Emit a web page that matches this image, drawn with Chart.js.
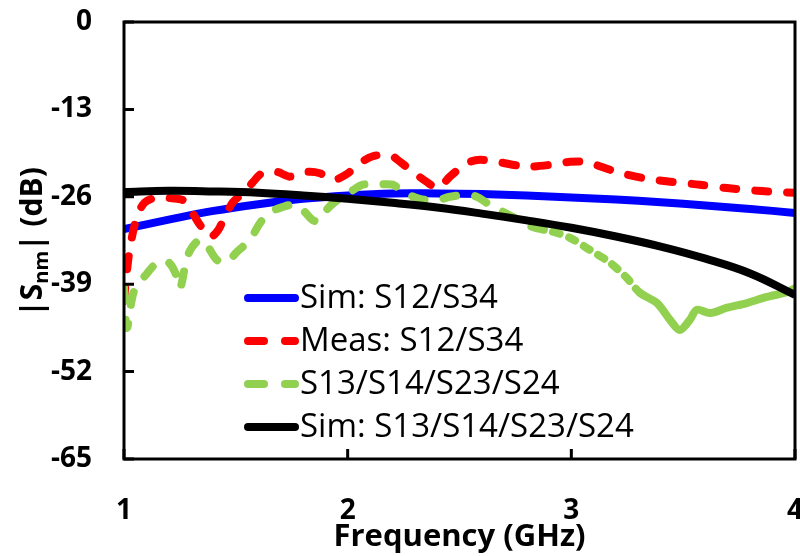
<!DOCTYPE html>
<html>
<head>
<meta charset="utf-8">
<script src="https://cdn.jsdelivr.net/npm/chart.js@4.4.0/dist/chart.umd.min.js"></script>
<style>
  html, body { margin: 0; padding: 0; background: #fff; }
</style>
</head>
<body>
<canvas id="chart" width="800" height="556"></canvas>
<script>
// simulated curves share one frequency grid (GHz)
const simFreq = [1.0, 1.2, 1.4, 1.6, 1.8, 2.0, 2.2, 2.4, 2.6, 2.8, 3.0, 3.2, 3.4, 3.6, 3.8, 4.0];
const simS12 = [-30.8, -29.4, -28.1, -27.1, -26.3, -25.8, -25.5, -25.5, -25.6, -25.8, -26.1, -26.4, -26.8, -27.3, -27.8, -28.4];
const simS13 = [-25.3, -25.1, -25.2, -25.4, -25.8, -26.3, -26.9, -27.6, -28.5, -29.5, -30.6, -31.9, -33.4, -35.2, -37.4, -40.6];

// measured S12/S34
const measFreq = [1.0, 1.01, 1.027, 1.058, 1.094, 1.161, 1.206, 1.264, 1.304, 1.34, 1.384, 1.42, 1.443, 1.487,
  1.532, 1.577, 1.617, 1.684, 1.742, 1.818, 1.876, 1.934, 1.997, 2.042, 2.109, 2.189, 2.234, 2.292, 2.354,
  2.404, 2.457, 2.533, 2.591, 2.667, 2.801, 2.918, 2.994, 3.07, 3.114, 3.204, 3.32, 3.454, 3.575, 3.696,
  3.83, 3.933, 4.0];
const measS12 = [-41.5, -38, -33.5, -29, -26.8, -26, -26.2, -26.5, -28.3, -30.2, -32, -31, -29.5, -26.8,
  -25.5, -23.8, -22.5, -22.3, -23, -22.3, -22.5, -23.5, -22.6, -21.3, -20, -19.8, -20.8, -22.3, -23.8,
  -24.7, -23, -21, -20.5, -20.8, -21.5, -21.2, -20.8, -20.8, -21.3, -22.3, -23.2, -23.8, -24.2, -24.7,
  -25.1, -25.3, -25.4];

// measured S13/S14/S23/S24
const xtalkFreq = [1.0, 1.013, 1.045, 1.103, 1.152, 1.197, 1.228, 1.25, 1.273, 1.295, 1.34, 1.376, 1.416,
  1.46, 1.505, 1.563, 1.608, 1.653, 1.711, 1.755, 1.8, 1.845, 1.876, 1.912, 1.966, 2.01, 2.068, 2.131,
  2.202, 2.247, 2.323, 2.399, 2.457, 2.533, 2.578, 2.636, 2.739, 2.828, 2.918, 2.994, 3.083, 3.173, 3.249,
  3.307, 3.383, 3.441, 3.485, 3.53, 3.561, 3.62, 3.696, 3.785, 3.874, 3.964, 4.0];
const measS13 = [-39.5, -45.5, -40, -37.4, -35.7, -35.7, -37.2, -39.6, -36.4, -34, -32.4, -33.5, -35.4,
  -35.7, -34.2, -32.4, -29.9, -28.3, -27.5, -27.2, -28, -29.5, -29.5, -27.7, -26.2, -25.3, -24.2, -24.2,
  -24.2, -25.3, -26.3, -26.5, -26, -25.7, -26, -27.2, -29, -30.5, -31.2, -32.1, -33.9, -35.8, -38.1,
  -40.3, -41.8, -44.3, -45.8, -44.3, -42.8, -43.3, -42.5, -41.8, -40.9, -40.2, -39.6];

const seriesNames = ['Sim: S12/S34', 'Meas: S12/S34', 'S13/S14/S23/S24', 'Sim: S13/S14/S23/S24'];
const yTicks = [0, -13, -26, -39, -52, -65];
const xTicks = [1, 2, 3, 4];

const pts = (xs, ys) => xs.map((x, i) => ({ x: x, y: ys[i] }));

const FONT = '"Open Sans", "DejaVu Sans", sans-serif';

// keep the plot box fixed; no extra room for edge labels
const noEdgePadding = s => {
  s.paddingTop = 0;
  s.paddingBottom = 0;
  s.paddingLeft = 0;
  s.paddingRight = 0;
};

// frame, inward tick marks, legend and the y title with subscript
const decorations = {
  id: 'decorations',
  afterDraw(chart) {
    const { ctx, chartArea: a, scales } = chart;
    ctx.save();
    ctx.strokeStyle = '#000';
    ctx.lineWidth = 3;
    ctx.strokeRect(a.left, a.top, a.right - a.left, a.bottom - a.top);

    ctx.beginPath();
    yTicks.forEach(v => {
      const y = scales.y.getPixelForValue(v);
      ctx.moveTo(a.left, y);
      ctx.lineTo(a.left + 10, y);
    });
    xTicks.forEach(v => {
      const x = scales.x.getPixelForValue(v);
      ctx.moveTo(x, a.bottom);
      ctx.lineTo(x, a.bottom - 10);
    });
    ctx.stroke();

    // legend inside the plot
    ctx.font = '33px ' + FONT;
    ctx.textBaseline = 'middle';
    ctx.fillStyle = '#000';
    chart.data.datasets.forEach((ds, i) => {
      const y = 298 + i * 43;
      ctx.save();
      ctx.strokeStyle = ds.borderColor;
      ctx.lineWidth = 8;
      ctx.lineCap = 'round';
      ctx.setLineDash(ds.borderDash && ds.borderDash.length ? [16, 21] : []);
      ctx.beginPath();
      ctx.moveTo(248, y);
      ctx.lineTo(295, y);
      ctx.stroke();
      ctx.restore();
      ctx.fillText(ds.label, 300, y + 1);
    });

    // |S_nm| (dB), rotated
    ctx.translate(31, 242);
    ctx.rotate(-Math.PI / 2);
    const big = 'bold 30px ' + FONT;
    const small = 'bold 20px ' + FONT;
    ctx.font = big;
    const w1 = ctx.measureText('|S').width;
    const w3 = ctx.measureText('| (dB)').width;
    ctx.font = small;
    const w2 = ctx.measureText('nm').width;
    let x = -(w1 + w2 + w3) / 2;
    ctx.textBaseline = 'alphabetic';
    ctx.font = big;
    ctx.fillText('|S', x, 11);
    x += w1;
    ctx.font = small;
    ctx.fillText('nm', x, 17);
    x += w2;
    ctx.font = big;
    ctx.fillText('| (dB)', x, 11);
    ctx.restore();
  }
};

new Chart(document.getElementById('chart').getContext('2d'), {
  type: 'line',
  data: {
    datasets: [
      {
        label: seriesNames[0],
        data: pts(simFreq, simS12),
        borderColor: '#0000ff',
        borderWidth: 8,
        tension: 0.4,
        order: 4
      },
      {
        label: seriesNames[1],
        data: pts(measFreq, measS12),
        borderColor: '#ff0000',
        borderWidth: 8,
        borderDash: [13, 19],
        borderCapStyle: 'round',
        tension: 0.3,
        order: 3
      },
      {
        label: seriesNames[2],
        data: pts(xtalkFreq, measS13),
        borderColor: '#92d050',
        borderWidth: 8,
        borderDash: [13, 19],
        borderCapStyle: 'round',
        tension: 0.3,
        order: 2,
        segment: {
          // the noisy upper band reads as a near-solid trace
          borderDash: c => c.p0.parsed.x >= 3.3 ? [] : (c.p0.parsed.x >= 2.85 ? [7, 10] : undefined)
        }
      },
      {
        label: seriesNames[3],
        data: pts(simFreq, simS13),
        borderColor: '#000000',
        borderWidth: 8,
        tension: 0.4,
        order: 1
      }
    ]
  },
  options: {
    responsive: false,
    animation: false,
    elements: { point: { radius: 0 } },
    layout: { autoPadding: false, padding: { top: 22, right: 5, left: 0, bottom: 0 } },
    scales: {
      x: {
        type: 'linear',
        min: 1,
        max: 4,
        ticks: {
          stepSize: 1,
          padding: 35,
          color: '#000',
          font: { family: FONT, size: 28, weight: 'bold' }
        },
        grid: { display: false, drawTicks: false },
        border: { display: false },
        title: {
          display: true,
          text: 'Frequency (GHz)',
          color: '#000',
          font: { family: FONT, size: 31, weight: 'bold' },
          padding: 0
        },
        afterFit: s => { s.height = 97; noEdgePadding(s); }
      },
      y: {
        min: -65,
        max: 0,
        ticks: {
          stepSize: 13,
          padding: 32,
          color: '#000',
          font: { family: FONT, size: 28, weight: 'bold' }
        },
        grid: { display: false, drawTicks: false },
        border: { display: false },
        afterFit: s => { s.width = 124; noEdgePadding(s); }
      }
    },
    plugins: {
      legend: { display: false },
      tooltip: { enabled: false }
    }
  },
  plugins: [decorations]
});
</script>
</body>
</html>
